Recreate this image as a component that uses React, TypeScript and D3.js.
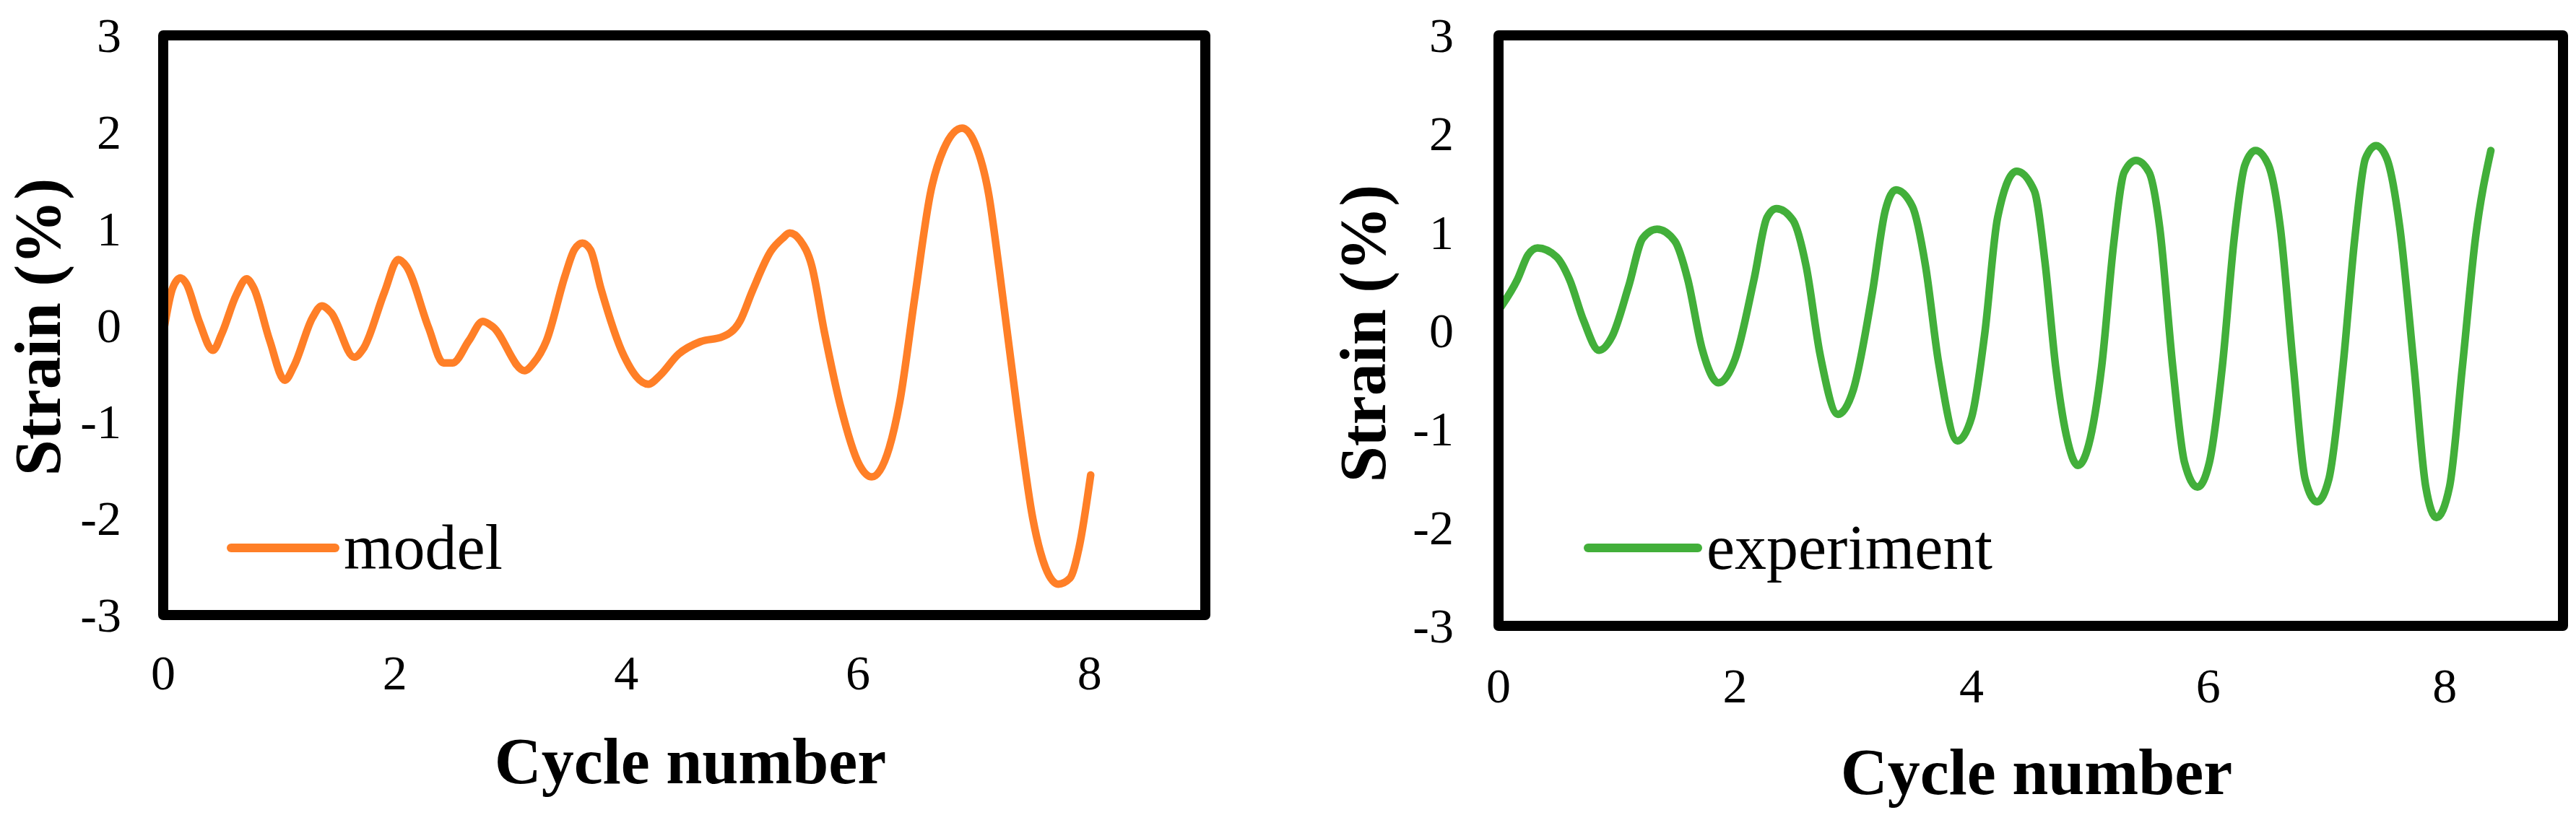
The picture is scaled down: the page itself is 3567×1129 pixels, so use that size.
import * as d3 from "d3";

// cycle number / strain (%)
const modelX = [0.01, 0.08, 0.15, 0.2, 0.31, 0.43, 0.505, 0.63, 0.72, 0.78, 0.92, 1.05, 1.13, 1.29, 1.37, 1.45, 1.65, 1.73, 1.91, 2.03, 2.1, 2.29, 2.42, 2.5, 2.64, 2.76, 2.85, 3.12, 3.2, 3.31, 3.47, 3.55, 3.62, 3.69, 3.78, 3.98, 4.19, 4.29, 4.45, 4.64, 4.83, 4.98, 5.09, 5.25, 5.35, 5.41, 5.5, 5.6, 5.71, 5.85, 6.01, 6.12, 6.27, 6.36, 6.49, 6.63, 6.74, 6.9, 7.0, 7.13, 7.22, 7.38, 7.51, 7.62, 7.73, 7.83, 7.91, 8.01];
const modelY = [-0.02, 0.38, 0.49, 0.43, 0.04, -0.26, -0.09, 0.31, 0.48, 0.39, -0.16, -0.57, -0.42, 0.08, 0.2, 0.13, -0.33, -0.24, 0.34, 0.68, 0.61, -0.02, -0.39, -0.39, -0.16, 0.04, -0.02, -0.47, -0.39, -0.16, 0.51, 0.78, 0.85, 0.78, 0.38, -0.32, -0.61, -0.52, -0.3, -0.17, -0.12, 0.04, 0.36, 0.77, 0.9, 0.955, 0.88, 0.62, -0.07, -0.84, -1.44, -1.57, -1.27, -0.8, 0.28, 1.39, 1.82, 2.04, 1.91, 1.35, 0.58, -0.92, -2.0, -2.51, -2.68, -2.62, -2.3, -1.55];

const expX = [0.02, 0.16, 0.25, 0.33, 0.49, 0.6, 0.72, 0.85, 0.96, 1.1, 1.22, 1.34, 1.49, 1.6, 1.72, 1.86, 2.0, 2.16, 2.27, 2.35, 2.49, 2.6, 2.72, 2.87, 3.0, 3.16, 3.27, 3.36, 3.5, 3.61, 3.72, 3.88, 4.0, 4.11, 4.22, 4.38, 4.53, 4.62, 4.71, 4.8, 4.9, 4.99, 5.1, 5.2, 5.29, 5.39, 5.5, 5.59, 5.7, 5.8, 5.91, 6.01, 6.12, 6.22, 6.31, 6.4, 6.51, 6.61, 6.72, 6.82, 6.92, 7.02, 7.14, 7.24, 7.33, 7.42, 7.51, 7.62, 7.74, 7.84, 7.93, 8.04, 8.15, 8.26, 8.39];
const expY = [0.24, 0.52, 0.77, 0.84, 0.75, 0.52, 0.1, -0.2, -0.06, 0.45, 0.94, 1.03, 0.91, 0.52, -0.18, -0.53, -0.29, 0.52, 1.15, 1.24, 1.12, 0.66, -0.25, -0.85, -0.6, 0.38, 1.22, 1.43, 1.26, 0.66, -0.32, -1.12, -0.88, -0.04, 1.15, 1.62, 1.42, 0.7, -0.36, -1.06, -1.37, -1.16, -0.36, 0.87, 1.61, 1.73, 1.61, 1.05, -0.36, -1.34, -1.59, -1.34, -0.36, 0.94, 1.68, 1.83, 1.68, 1.05, -0.36, -1.51, -1.74, -1.51, -0.36, 0.94, 1.75, 1.88, 1.75, 1.05, -0.36, -1.59, -1.9, -1.59, -0.36, 0.94, 1.83];

const xTicks = [0, 2, 4, 6, 8];
const yTicks = [-3, -2, -1, 0, 1, 2, 3];

const FONT = "'Liberation Serif', 'Times New Roman', serif";

function Panel({ xs, ys, color, label, box }) {
  const x = d3.scaleLinear().domain([0, 9]).range([box.left, box.right]);
  const y = d3.scaleLinear().domain([-3, 3]).range([box.bottom, box.top]);
  const pts = xs.map((v, i) => [v, ys[i]]);
  const line = d3.line().x(d => x(d[0])).y(d => y(d[1])).curve(d3.curveMonotoneX);

  return (
    <g>
      {yTicks.map(t => (
        <text key={"y" + t} x={box.yLabelX} y={y(t)} dy="0.34em" textAnchor="end"
          fontFamily={FONT} fontSize={68}>{t}</text>
      ))}
      {xTicks.map(t => (
        <text key={"x" + t} x={x(t)} y={box.xLabelY} textAnchor="middle"
          fontFamily={FONT} fontSize={68}>{t}</text>
      ))}
      <path d={line(pts)} fill="none" stroke={color} strokeWidth={10.5}
        strokeLinejoin="round" strokeLinecap="round" />
      <rect x={box.left} y={box.top} width={box.right - box.left} height={box.bottom - box.top}
        fill="none" stroke="#000" strokeWidth={14} strokeLinejoin="round" />
      <line x1={box.legX1} x2={box.legX2} y1={box.legY} y2={box.legY} stroke={color}
        strokeWidth={12} strokeLinecap="round" />
      <text x={box.legX2 + 12} y={box.legY + 29} fontFamily={FONT} fontSize={88}>{label}</text>
      <text x={box.xTitleX} y={box.xTitleY} textAnchor="middle" fontFamily={FONT}
        fontWeight="bold" fontSize={90}>Cycle number</text>
      <text transform={`translate(${box.yTitleX},${box.yTitleY}) rotate(-90)`} textAnchor="middle"
        fontFamily={FONT} fontWeight="bold" fontSize={90}>Strain (%)</text>
    </g>
  );
}

export default function App() {
  const leftBox = {
    left: 226, right: 1669, top: 49, bottom: 852,
    yLabelX: 168, xLabelY: 955,
    legX1: 320, legX2: 464, legY: 759,
    xTitleX: 956, xTitleY: 1085, yTitleX: 83, yTitleY: 453,
  };
  const rightBox = {
    left: 2075, right: 3549, top: 49, bottom: 867,
    yLabelX: 2013, xLabelY: 973,
    legX1: 2199, legX2: 2351, legY: 759,
    xTitleX: 2820, xTitleY: 1100, yTitleX: 1918, yTitleY: 462,
  };

  return (
    <svg width={3567} height={1129} style={{ position: "absolute", left: 0, top: 0, background: "#fff" }}>
      <rect width={3567} height={1129} fill="#fff" />
      <Panel xs={modelX} ys={modelY} color="#FF7F27" label="model" box={leftBox} />
      <Panel xs={expX} ys={expY} color="#42AF3A" label="experiment" box={rightBox} />
    </svg>
  );
}
